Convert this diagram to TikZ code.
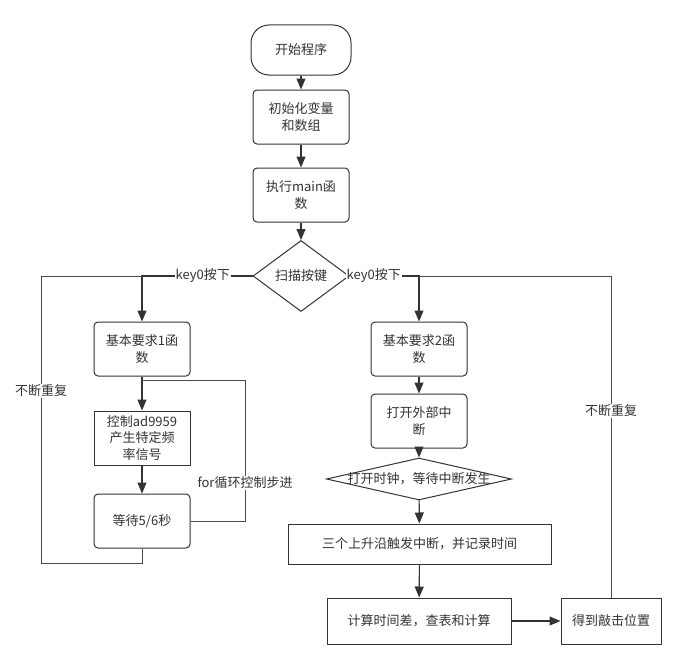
\documentclass[tikz,border=0pt]{standalone}
\usepackage{fontspec}
\setmainfont{Noto Sans CJK SC}
\usetikzlibrary{shapes.geometric,arrows.meta}

\begin{document}
\begin{tikzpicture}[x=1pt, y=-1pt,
    every node/.style={font=\fontsize{13}{16.5}\selectfont, text=black!80},
    flowbox/.style={draw=black!80, line width=1pt, fill=white, align=center,
      minimum width=96pt, minimum height=54pt, inner sep=0pt},
    roundbox/.style={flowbox, rounded corners=4pt},
    termbox/.style={flowbox, rounded corners=18pt, minimum width=100pt, minimum height=50pt},
    decision/.style={diamond, draw=black!80, line width=1pt, fill=white, inner sep=0pt},
    arrow/.style={-{Triangle[length=11pt,width=9pt]}, draw=black!80, line width=1.1pt},
    loopline/.style={draw=black!70, line width=1pt},
    tag/.style={fill=white, inner sep=1pt}]
  \useasboundingbox (0,0) rectangle (685,669);

  % Main column
  \node[termbox] (start) at (301,50) {开始程序};
  \node[roundbox] (init) at (301,117) {初始化变量\\和数组};
  \node[roundbox] (mainfn) at (301,195) {执行main函\\数};
  \node[decision, minimum width=96pt, minimum height=71pt] (scan) at (301,276) {扫描按键};

  % Left branch
  \node[roundbox] (req1) at (142,349) {基本要求1函\\数};
  \node[flowbox] (ad) at (142,438) {控制ad9959\\产生特定频\\率信号};
  \node[roundbox] (wait) at (142,521) {等待5/6秒};

  % Right branch
  \node[roundbox] (req2) at (419,349) {基本要求2函\\数};
  \node[roundbox] (extint) at (419,421) {打开外部中\\断};
  \node[decision, minimum width=185pt, minimum height=42pt,
    label=center:{打开时钟，等待中断发生}] (clock) at (419,479) {};
  \node[flowbox, minimum width=263pt, minimum height=40pt] (record) at (419.5,544) {三个上升沿触发中断，并记录时间};
  \node[flowbox, minimum width=184pt, minimum height=46pt] (calc) at (419,621) {计算时间差，查表和计算};
  \node[flowbox, minimum width=100pt, minimum height=46pt] (hit) at (611,621) {得到敲击位置};

  % Junction points
  \coordinate (lsplit) at (142,276);
  \coordinate (rsplit) at (419,276);
  \coordinate (lbot) at (142,563);
  \coordinate (lfar) at (41,276);
  \coordinate (ljoin) at (142,380);
  \coordinate (fcorner) at (245,380);

  % Edges
  \draw[arrow] (start) -- (init);
  \draw[arrow] (init) -- (mainfn);
  \draw[arrow] (mainfn) -- (scan);
  \draw[arrow] (scan.west) -- node[tag, pos=0.45] {key0按下} (lsplit) -- (req1);
  \draw[arrow] (scan.east) -- node[tag, pos=0.35] {key0按下} (rsplit) -- (req2);
  \draw[arrow] (req1) -- (ad);
  \draw[arrow] (ad) -- (wait);
  \draw[arrow] (req2) -- (extint);
  \draw[arrow] (extint) -- (clock);
  \draw[arrow] (clock) -- (record);
  \draw[arrow] (record) -- (calc);
  \draw[arrow] (calc) -- (hit);

  % Loops
  \draw[loopline] (wait.south) -- (lbot) -| node[tag, pos=0.8] {不断重复} (lfar) -- (lsplit);
  \draw[loopline] (wait.east) -| node[tag, pos=0.635] {for循环控制步进} (fcorner) -- (ljoin);
  \draw[loopline] (hit.north) |- node[tag, pos=0.29] {不断重复} (rsplit);
\end{tikzpicture}
\end{document}
